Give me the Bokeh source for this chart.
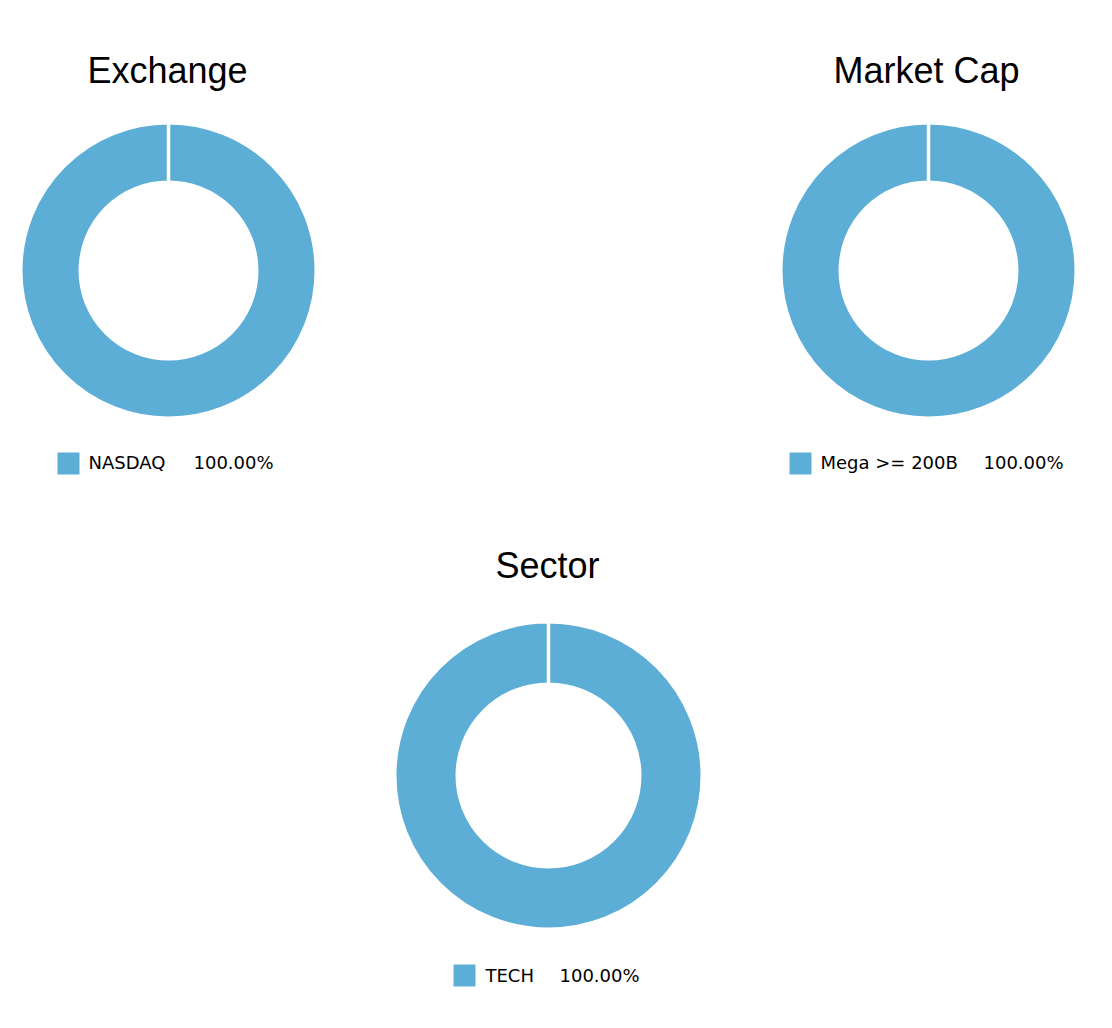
import math
from bokeh.plotting import figure
from bokeh.models import Range1d, ColumnDataSource
from bokeh.core.properties import value
from bokeh.embed import file_html
from bokeh.resources import INLINE

# ---- data ----
chart_titles = ["Exchange", "Market Cap", "Sector"]
exchange_labels = ["NASDAQ"]
exchange_values = [100.0]
cap_labels = ["Mega >= 200B"]
cap_values = [100.0]
sector_labels = ["TECH"]
sector_values = [100.0]
slice_colors = ["#5daed6"]

# ---- layout (pixel units, measured from the top-left of the page) ----
W, H = 1104, 1020
GAP = 3.5
layout = [
    dict(cx=168, cy=270, R=146, r=90, tx=167, ty=70, sqx=68, sqy=463, lx=88, vx=193, ly=462),
    dict(cx=928, cy=270, R=146, r=90, tx=926, ty=70, sqx=800, sqy=463, lx=820, vx=983, ly=462),
    dict(cx=548, cy=775, R=152, r=93, tx=547, ty=565, sqx=464, sqy=975, lx=485, vx=559, ly=975),
]
series = [
    (exchange_labels, exchange_values),
    (cap_labels, cap_values),
    (sector_labels, sector_values),
]

p = figure(width=W, height=H, x_range=Range1d(0, W), y_range=Range1d(0, H),
           output_backend="svg", toolbar_location=None, min_border=0,
           outline_line_color=None, background_fill_color="white",
           border_fill_color="white")
p.xaxis.visible = False
p.yaxis.visible = False
p.xgrid.visible = False
p.ygrid.visible = False

def Y(top):
    return H - top

for title, (labels, vals), L in zip(chart_titles, series, layout):
    total = sum(vals)
    starts, ends, cols = [], [], []
    cum = 0.0
    for i, v in enumerate(vals):
        frac = v / total
        s = math.pi / 2 - cum * 2 * math.pi
        e = s - frac * 2 * math.pi
        starts.append(s)
        ends.append(e)
        cols.append(slice_colors[i % len(slice_colors)])
        cum += frac
    src = ColumnDataSource(dict(x=[L["cx"]] * len(vals), y=[Y(L["cy"])] * len(vals),
                                start=starts, end=ends, color=cols))
    p.annular_wedge(x="x", y="y", inner_radius=L["r"] - GAP / 2, outer_radius=L["R"] + GAP / 2,
                    start_angle="start", end_angle="end", direction="clock",
                    fill_color="color", line_color="white", line_width=GAP, source=src)

    p.text(x=[L["tx"]], y=[Y(L["ty"])], text=[title], text_align="center",
           text_baseline="alphabetic", text_font=value("Liberation Sans"),
           text_font_size="36px", text_color="black")

    # legend
    for j, (lab, v) in enumerate(zip(labels, vals)):
        p.rect(x=[L["sqx"]], y=[Y(L["sqy"] + j * 28)], width=22, height=22,
               fill_color=slice_colors[j % len(slice_colors)], line_color=None)
        p.text(x=[L["lx"]], y=[Y(L["ly"] + j * 28)], text=[lab], text_align="left",
               text_baseline="alphabetic", text_font=value("DejaVu Sans"),
               text_font_size="18px", text_color="black")
        p.text(x=[L["vx"]], y=[Y(L["ly"] + j * 28)], text=[f"{v / total * 100:.2f}%"],
               text_align="left", text_baseline="alphabetic",
               text_font=value("DejaVu Sans"), text_font_size="18px", text_color="black")

open("out.html", "w").write(file_html(p, INLINE))
